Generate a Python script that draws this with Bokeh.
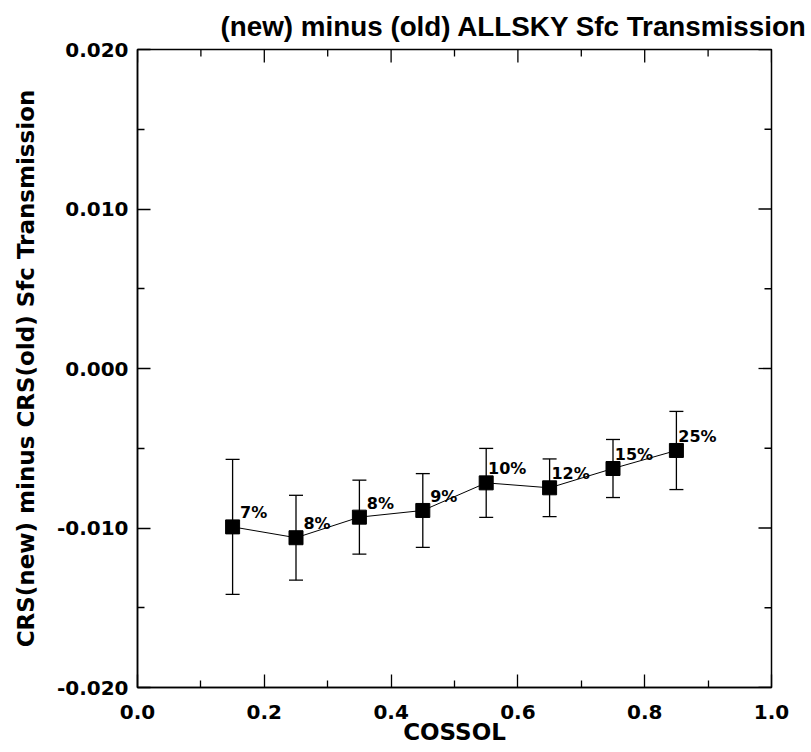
import math
from bokeh.plotting import figure
from bokeh.models import (ColumnDataSource, Whisker, TeeHead, Range1d,
                          FixedTicker, NumeralTickFormatter)
from bokeh.embed import file_html
from bokeh.resources import INLINE
from bokeh.core.properties import value

# ---- data ----
cossol = [0.15, 0.25, 0.35, 0.45, 0.55, 0.65, 0.75, 0.85]
diff = [-0.00993, -0.01061, -0.00932, -0.00890, -0.00717, -0.00748, -0.00627, -0.00514]
err = [0.00423, 0.00266, 0.00232, 0.00231, 0.00216, 0.00181, 0.00182, 0.00245]
pct_labels = ["7%", "8%", "8%", "9%", "10%", "12%", "15%", "25%"]

x_ticks = [0.0, 0.2, 0.4, 0.6, 0.8, 1.0]
x_minor = [0.1, 0.3, 0.5, 0.7, 0.9]
y_ticks = [-0.020, -0.010, 0.000, 0.010, 0.020]
y_minor = [-0.015, -0.005, 0.005, 0.015]

x_min, x_max = 0.0, 1.0
y_min, y_max = -0.02, 0.02

title_text = "(new) minus (old) ALLSKY Sfc Transmission"
x_title = "COSSOL"
y_title = "CRS(new) minus CRS(old) Sfc Transmission"

src = ColumnDataSource(dict(
    x=cossol, y=diff,
    upper=[d + e for d, e in zip(diff, err)],
    lower=[d - e for d, e in zip(diff, err)],
    lab=pct_labels,
))

FONT = "DejaVu Sans"

p = figure(width=810, height=751, x_range=Range1d(x_min, x_max), y_range=Range1d(y_min, y_max),
           output_backend="svg", toolbar_location=None,
           min_border_left=137, min_border_right=39, min_border_top=48, min_border_bottom=64)

p.xgrid.visible = False
p.ygrid.visible = False
p.outline_line_color = "black"
p.outline_line_width = 1.5
p.background_fill_color = "white"
p.border_fill_color = "white"

p.title.text = title_text
p.title.text_font = "Liberation Sans"
p.title.text_font_style = "bold"
p.title.text_font_size = "27.8px"
p.title.text_color = "black"
p.title.align = "left"
p.title.offset = 83
p.title.standoff = 16


def style_axis(ax, ticks, minor, fmt):
    ax.ticker = FixedTicker(ticks=ticks, minor_ticks=minor)
    ax.formatter = NumeralTickFormatter(format=fmt)
    ax.axis_line_color = "black"
    ax.axis_line_width = 1.5
    ax.major_tick_in = 13
    ax.major_tick_out = 0
    ax.minor_tick_in = 7
    ax.minor_tick_out = 0
    ax.major_tick_line_width = 1.3
    ax.minor_tick_line_width = 1.3
    ax.major_tick_line_color = "black"
    ax.minor_tick_line_color = "black"
    ax.major_label_text_font = FONT
    ax.major_label_text_font_style = "bold"
    ax.major_label_text_font_size = "20px"
    ax.major_label_text_color = "black"
    ax.axis_label_text_font = FONT
    ax.axis_label_text_font_style = "bold"
    ax.axis_label_text_color = "black"


xa = p.xaxis[0]
ya = p.yaxis[0]
style_axis(xa, x_ticks, x_minor, "0.0")
style_axis(ya, y_ticks, y_minor, "0.000")
xa.major_label_standoff = 17
ya.major_label_standoff = 9

xa.axis_label = x_title
xa.axis_label_text_font_size = "23px"
xa.axis_label_standoff = -3

ya.axis_label = y_title
ya.axis_label_text_font_size = "23px"
ya.axis_label_standoff = 15

# ticks on the top and right edges of the frame (half of each dash is clipped by the frame)
p.scatter(x=x_ticks, y=[y_max] * len(x_ticks), marker="dash", angle=math.pi / 2, size=26,
          line_color="black", line_width=1.3)
p.scatter(x=x_minor, y=[y_max] * len(x_minor), marker="dash", angle=math.pi / 2, size=14,
          line_color="black", line_width=1.3)
p.scatter(x=[x_max] * len(y_ticks), y=y_ticks, marker="dash", size=26,
          line_color="black", line_width=1.3)
p.scatter(x=[x_max] * len(y_minor), y=y_minor, marker="dash", size=14,
          line_color="black", line_width=1.3)

# connecting line
p.line("x", "y", source=src, line_color="black", line_width=1)

# error bars
w = Whisker(base="x", upper="upper", lower="lower", source=src,
            line_color="black", line_width=1.3,
            upper_head=TeeHead(size=14, line_color="black", line_width=1.3),
            lower_head=TeeHead(size=14, line_color="black", line_width=1.3))
p.add_layout(w)

# markers
p.scatter("x", "y", source=src, marker="square", size=14,
          fill_color="black", line_color="black")

# percentage labels
p.text("x", "y", text="lab", source=src, text_font=value(FONT), text_font_style="bold",
       text_font_size="16px", text_align="center", text_baseline="alphabetic",
       x_offset=21, y_offset=-14, text_color="black")

open("out.html", "w").write(file_html(p, INLINE))
